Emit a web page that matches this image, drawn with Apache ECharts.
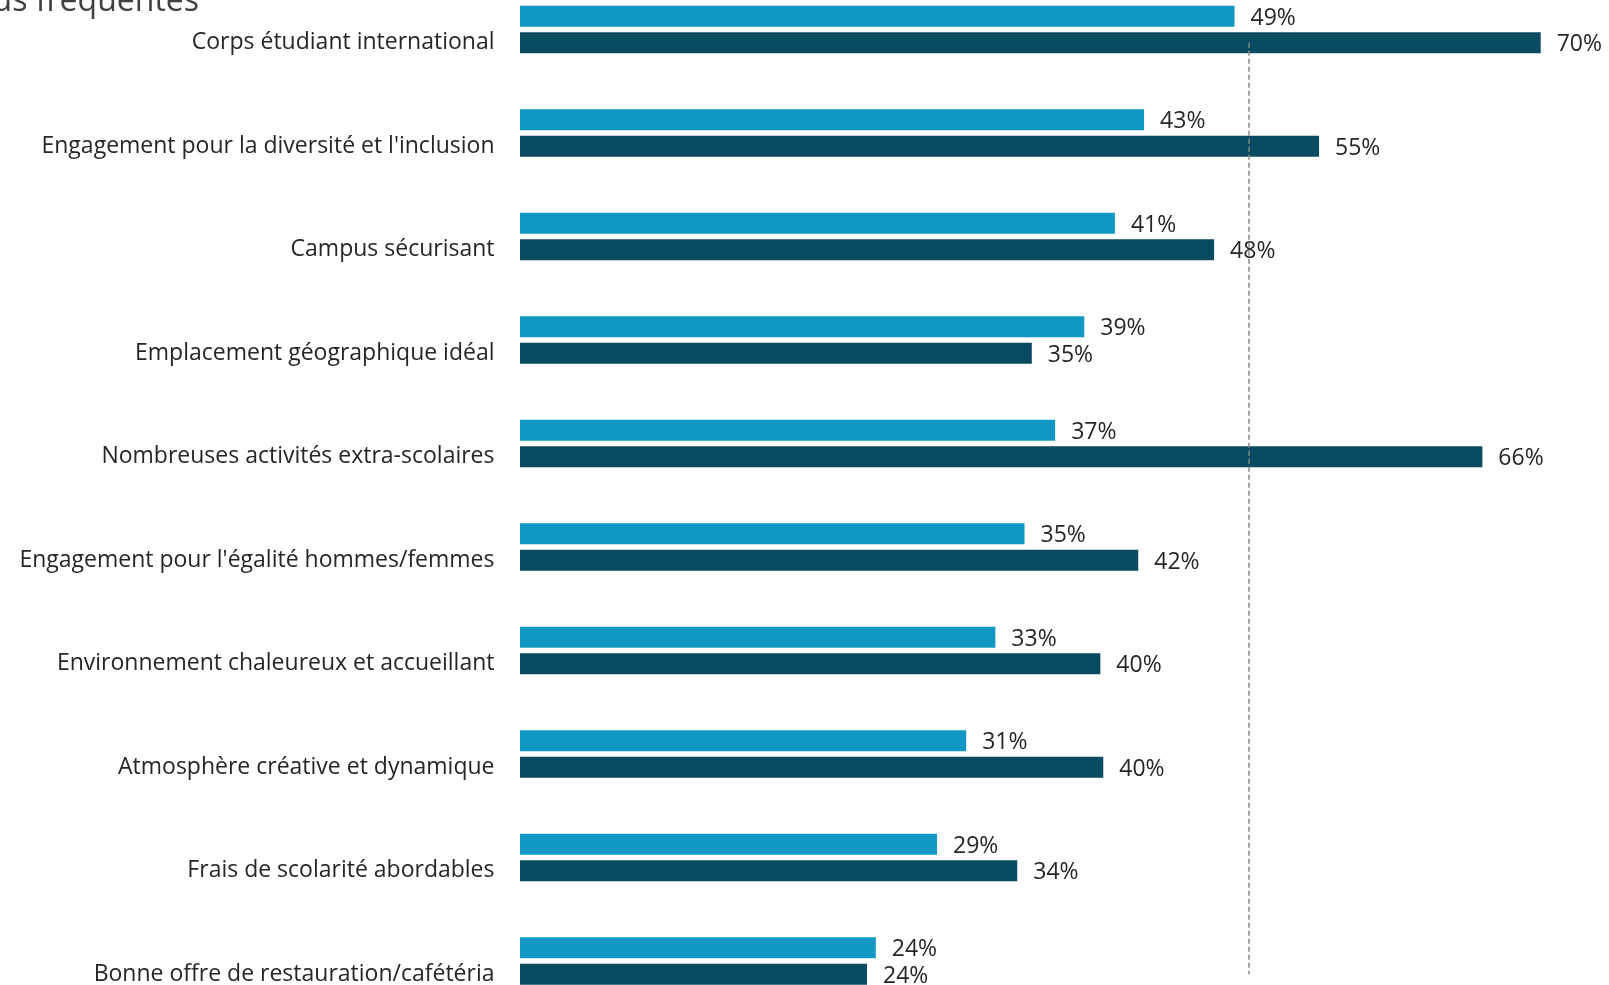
<!DOCTYPE html>
<html>
<head>
<meta charset="utf-8">
<script src="https://cdn.jsdelivr.net/npm/echarts@6/dist/echarts.min.js"></script>
<style>
html,body{margin:0;padding:0;background:#fff;}
#chart{width:1609px;height:985px;}
</style>
</head>
<body>
<div id="chart"></div>
<script>
const categories = [
  "Corps étudiant international",
  "Engagement pour la diversité et l'inclusion",
  "Campus sécurisant",
  "Emplacement géographique idéal",
  "Nombreuses activités extra-scolaires",
  "Engagement pour l'égalité hommes/femmes",
  "Environnement chaleureux et accueillant",
  "Atmosphère créative et dynamique",
  "Frais de scolarité abordables",
  "Bonne offre de restauration/cafétéria"
];
const valuesLight = [49, 42.8, 40.8, 38.7, 36.7, 34.6, 32.6, 30.6, 28.6, 24.4];
const valuesDark  = [70, 54.8, 47.6, 35.1, 66, 42.4, 39.8, 40, 34.1, 23.8];
const referenceValue = 50;
const titleText = "Les plus fréquentes";

const FONT = "'Open Sans', sans-serif";
const TEXT = '#262626';
const chart = echarts.init(document.getElementById('chart'), null, {renderer: 'canvas'});

const xAxisCommon = {
  type: 'value', min: 0, max: 70, show: false
};
const labelFmt = p => Math.round(p.value) + '%';

chart.setOption({
  animation: false,
  backgroundColor: '#ffffff',
  graphic: [{
    type: 'text', right: 1609 - 199, top: -14,
    style: { text: titleText, font: "32px " + FONT, fill: '#404040', textAlign: 'right' }
  }],
  grid: [
    { left: 520, right: 68.3, top: -35.55, height: 1035, outerBoundsMode: 'none' },
    { left: 520, right: 68.3, top: -9.05, height: 1035, outerBoundsMode: 'none' }
  ],
  xAxis: [
    Object.assign({ gridIndex: 0 }, xAxisCommon),
    Object.assign({ gridIndex: 1 }, xAxisCommon)
  ],
  yAxis: [
    { type: 'category', gridIndex: 0, data: categories, inverse: true, show: false },
    { type: 'category', gridIndex: 1, data: categories, inverse: true,
      axisLine: { show: false }, axisTick: { show: false }, splitLine: { show: false },
      axisLabel: { margin: 25.5, fontFamily: FONT, fontSize: 23, color: TEXT,
                   padding: [2, 0, 0, 0] } }
  ],
  series: [
    {
      name: 'Série 1', type: 'bar', xAxisIndex: 0, yAxisIndex: 0,
      data: valuesLight, barWidth: 21,
      itemStyle: { color: '#1097C3' },
      label: { show: true, position: 'right', distance: 16, formatter: labelFmt,
               offset: [0, 2], fontFamily: FONT, fontSize: 23, color: TEXT }
    },
    {
      name: 'Série 2', type: 'bar', xAxisIndex: 1, yAxisIndex: 1,
      data: valuesDark, barWidth: 21,
      itemStyle: { color: '#094C61' },
      label: { show: true, position: 'right', distance: 16, formatter: labelFmt,
               offset: [0, 2], fontFamily: FONT, fontSize: 23, color: TEXT },
      markLine: {
        silent: true, symbol: 'none', label: { show: false },
        lineStyle: { type: [5, 3], width: 1.5, color: '#8a8a8a' },
        data: [[
          { coord: [referenceValue, categories[0]] },
          { coord: [referenceValue, categories[categories.length - 1]] }
        ]]
      }
    }
  ]
});
</script>
</body>
</html>
